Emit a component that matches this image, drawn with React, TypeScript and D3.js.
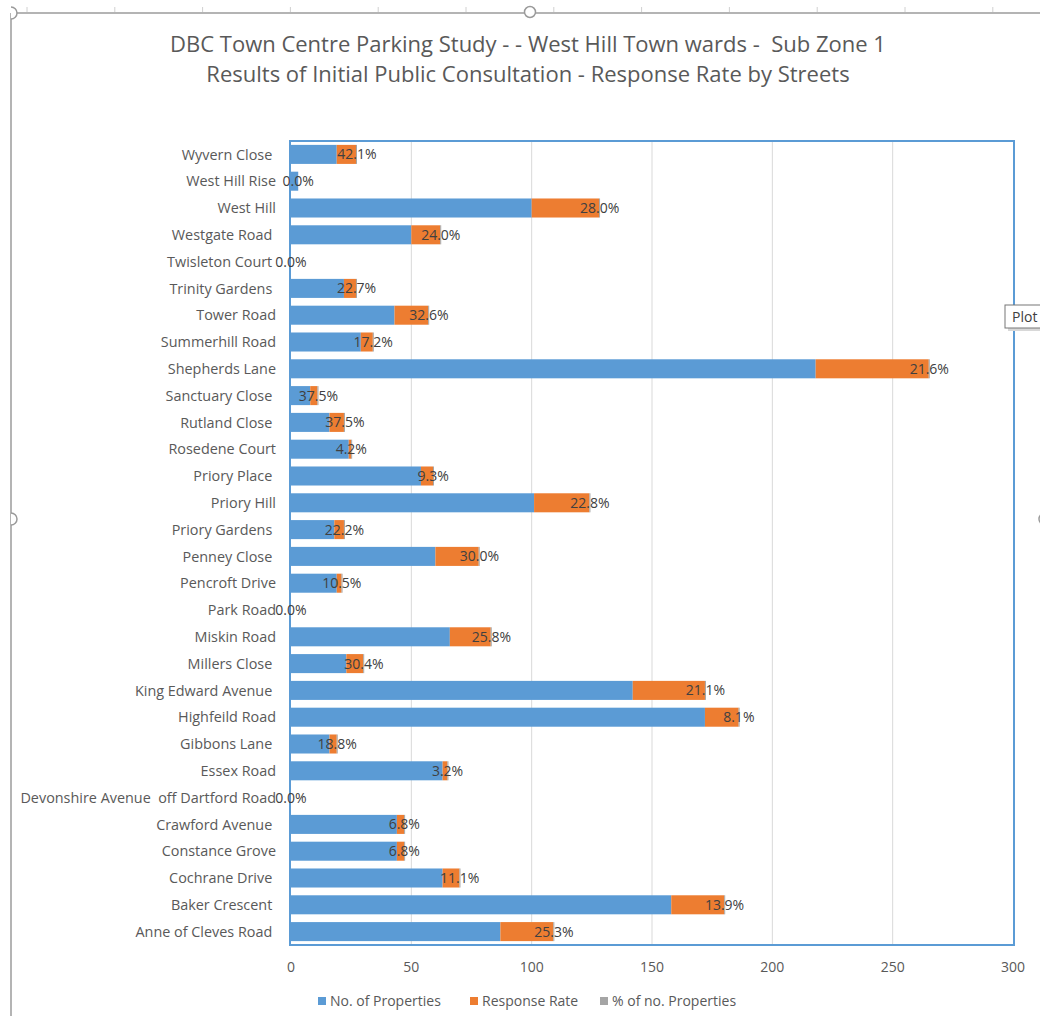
import * as d3 from "d3";

// street names, top to bottom as they appear on the chart (trailing spaces as in the source sheet)
const streets = [
  "Wyvern Close ",
  "West Hill Rise",
  "West Hill",
  "Westgate Road ",
  "Twisleton Court ",
  "Trinity Gardens ",
  "Tower Road",
  "Summerhill Road",
  "Shepherds Lane",
  "Sanctuary Close ",
  "Rutland Close ",
  "Rosedene Court",
  "Priory Place ",
  "Priory Hill",
  "Priory Gardens ",
  "Penney Close ",
  "Pencroft Drive",
  "Park Road",
  "Miskin Road",
  "Millers Close ",
  "King Edward Avenue ",
  "Highfeild Road",
  "Gibbons Lane ",
  "Essex Road",
  "Devonshire Avenue  off Dartford Road",
  "Crawford Avenue ",
  "Constance Grove",
  "Cochrane Drive ",
  "Baker Crescent ",
  "Anne of Cleves Road ",
];

const properties = [19, 3, 100, 50, 0, 22, 43, 29, 218, 8, 16, 24, 54, 101, 18, 60, 19, 0, 66, 23, 142, 172, 16, 63, 0, 44, 44, 63, 158, 87];
const responses = [8, 0, 28, 12, 0, 5, 14, 5, 47, 3, 6, 1, 5, 23, 4, 18, 2, 0, 17, 7, 30, 14, 3, 2, 0, 3, 3, 7, 22, 22];
const pctOfProps = [42.1, 0.0, 28.0, 24.0, 0.0, 22.7, 32.6, 17.2, 21.6, 37.5, 37.5, 4.2, 9.3, 22.8, 22.2, 30.0, 10.5, 0.0, 25.8, 30.4, 21.1, 8.1, 18.8, 3.2, 0.0, 6.8, 6.8, 11.1, 13.9, 25.3];

const xTicks = [0, 50, 100, 150, 200, 250, 300];

const seriesNames = ["No. of Properties", "Response Rate", "% of no. Properties"];
const seriesColors = ["#5b9bd5", "#ed7d31", "#a5a5a5"];

const W = 1040;
const H = 1016;
const font = "'Open Sans', 'Noto Sans', sans-serif";

export default function App() {
  const plot = { left: 291, right: 1013, top: 141, bottom: 945 };

  const x = d3.scaleLinear().domain([0, 300]).range([plot.left, plot.right]);
  const y = d3
    .scaleBand()
    .domain(streets)
    .range([plot.top, plot.bottom])
    .paddingInner(0.29)
    .paddingOuter(0.145);

  // stack the three series
  const rows = streets.map((s, i) => ({
    street: s,
    props: properties[i],
    resp: responses[i],
    pct: pctOfProps[i] / 100,
    label: pctOfProps[i].toFixed(1) + "%",
  }));
  const stack = d3
    .stack<(typeof rows)[number]>()
    .keys(["props", "resp", "pct"])
    .value((d, k) => (d as any)[k]);
  const layers = stack(rows);

  // ruler ticks along the top edge of the chart frame
  const rulerTicks = d3.range(27, W, 87.8);

  const legendItems = [
    { x: 318, text: seriesNames[0], color: seriesColors[0] },
    { x: 470, text: seriesNames[1], color: seriesColors[1] },
    { x: 600, text: seriesNames[2], color: seriesColors[2] },
  ];

  return (
    <svg
      width={W}
      height={H}
      style={{ position: "absolute", left: 0, top: 0, background: "#fff" }}
      fontFamily={font}
    >
      {/* chart frame / selection decoration */}
      <g stroke="#b4b4b4" fill="none" strokeWidth={2}>
        <line x1={11} y1={13} x2={W} y2={13} />
        <line x1={11} y1={13} x2={11} y2={H} />
      </g>
      <g stroke="#d0d0d0" strokeWidth={1}>
        {rulerTicks.map((t) => (
          <line key={t} x1={t} x2={t} y1={7} y2={12} />
        ))}
      </g>
      <g stroke="#9a9a9a" strokeWidth={1.5} fill="#fff">
        <circle cx={530} cy={12} r={5.5} />
        <path d="M11,513 A6,6 0 0 1 11,525" />
        <circle cx={1045} cy={519} r={6} />
        <path d="M11,19 A6,6 0 0 0 11,7" />
      </g>

      {/* title */}
      <g fill="#595959" fontSize={22} textAnchor="middle">
        <text x={528} y={52}>
          DBC Town Centre Parking Study - - West Hill Town wards -&#160; Sub Zone 1
        </text>
        <text x={528} y={82}>
          Results of Initial Public Consultation - Response Rate by Streets
        </text>
      </g>

      {/* gridlines */}
      <g stroke="#d9d9d9" strokeWidth={1}>
        {xTicks.slice(1, -1).map((t) => (
          <line key={t} x1={x(t)} x2={x(t)} y1={plot.top} y2={plot.bottom} />
        ))}
      </g>

      {/* stacked bars */}
      {layers.map((layer, li) => (
        <g key={layer.key} fill={seriesColors[li]}>
          {layer.map((d, i) => {
            const w = x(d[1]) - x(d[0]);
            if (w <= 0) return null;
            return (
              <rect
                key={i}
                x={x(d[0])}
                y={y(streets[i])!}
                width={Math.max(w, li === 2 ? 1 : 0)}
                height={y.bandwidth()}
              />
            );
          })}
        </g>
      ))}

      {/* plot area border */}
      <rect
        x={plot.left - 1}
        y={plot.top}
        width={plot.right - plot.left + 2}
        height={plot.bottom - plot.top}
        fill="none"
        stroke="#5b9bd5"
        strokeWidth={2}
      />

      {/* data labels (on the % series, at the end of each stack) */}
      <g fill="#404040" fontSize={14} textAnchor="middle">
        {layers[2].map((d, i) => (
          <text
            key={i}
            x={x(d[1])}
            y={y(streets[i])! + y.bandwidth() / 2}
            dy="0.36em"
          >
            {rows[i].label}
          </text>
        ))}
      </g>

      {/* category axis */}
      <g fill="#595959" fontSize={14.4} textAnchor="end">
        {streets.map((s) => (
          <text
            key={s}
            x={276}
            y={y(s)! + y.bandwidth() / 2}
            dy="0.36em"
            xmlSpace="preserve"
            style={{ whiteSpace: "pre" }}
          >
            {s}
          </text>
        ))}
      </g>

      {/* value axis */}
      <g fill="#595959" fontSize={14} textAnchor="middle">
        {xTicks.map((t) => (
          <text key={t} x={x(t)} y={972}>
            {t}
          </text>
        ))}
      </g>

      {/* legend */}
      <g fontSize={14} fill="#595959">
        {legendItems.map((l) => (
          <g key={l.text}>
            <rect x={l.x} y={997} width={8} height={8} fill={l.color} />
            <text x={l.x + 12} y={1006}>
              {l.text}
            </text>
          </g>
        ))}
      </g>

      {/* hover tooltip seen on the right edge */}
      <g>
        <rect x={1008} y={308} width={40} height={23} fill="#d8d8d8" />
        <rect x={1005} y={305} width={40} height={23} fill="#fff" stroke="#767676" />
        <text x={1012} y={322} fontSize={14} fill="#404040">
          Plot
        </text>
      </g>
    </svg>
  );
}
